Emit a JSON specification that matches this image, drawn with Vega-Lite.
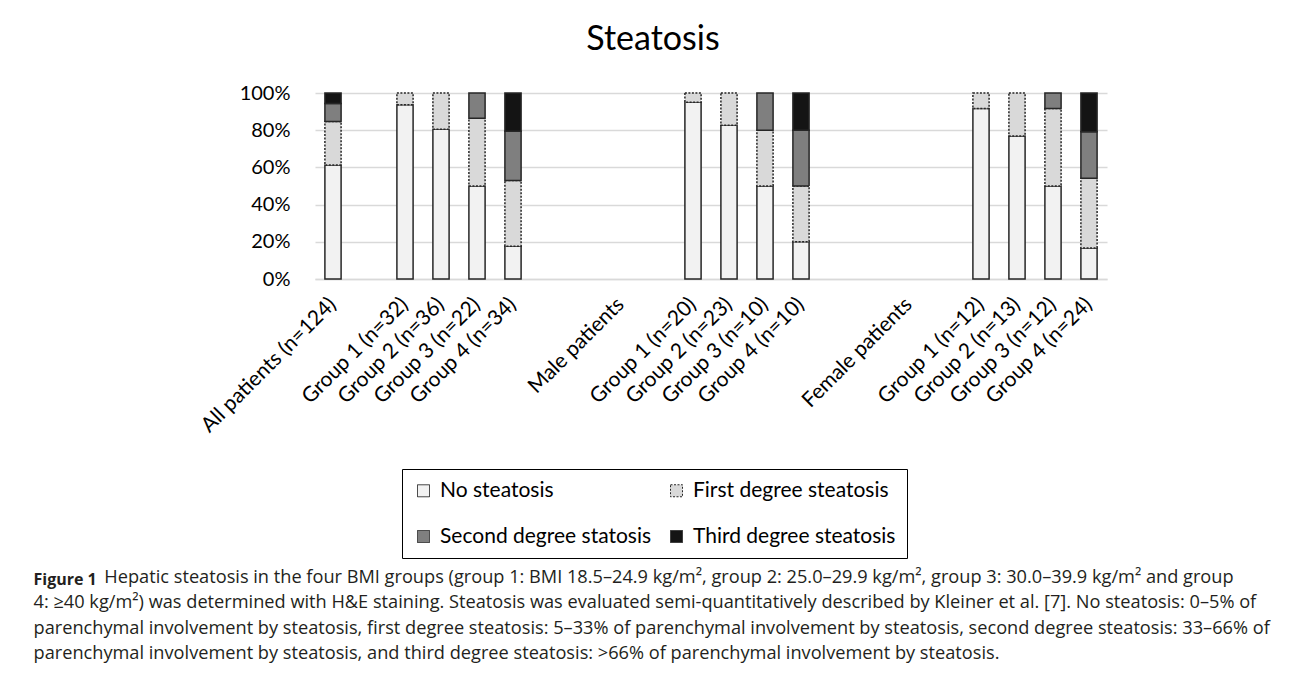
{
  "$schema": "https://vega.github.io/schema/vega-lite/v6.json",
  "width": 792,
  "height": 186,
  "autosize": {"type": "none"},
  "padding": {"left": 315, "top": 93, "right": 186, "bottom": 395},
  "background": "white",
  "config": {"font": "Lato", "view": {"stroke": null}},
  "title": {"text": "Steatosis", "fontSize": 34, "font": "Lato", "fontWeight": "normal", "anchor": "middle", "frame": "group", "dx": -58, "offset": 26, "color": "#000000"},
  "data": {"values": [
    {"cat": "All patients (n=124)", "grade": "No steatosis", "ord": 1, "n": 76},
    {"cat": "All patients (n=124)", "grade": "First degree steatosis", "ord": 2, "n": 29},
    {"cat": "All patients (n=124)", "grade": "Second degree statosis", "ord": 3, "n": 12},
    {"cat": "All patients (n=124)", "grade": "Third degree steatosis", "ord": 4, "n": 7},
    {"cat": "Group 1 (n=32)", "grade": "No steatosis", "ord": 1, "n": 30},
    {"cat": "Group 1 (n=32)", "grade": "First degree steatosis", "ord": 2, "n": 2},
    {"cat": "Group 2 (n=36)", "grade": "No steatosis", "ord": 1, "n": 29},
    {"cat": "Group 2 (n=36)", "grade": "First degree steatosis", "ord": 2, "n": 7},
    {"cat": "Group 3 (n=22)", "grade": "No steatosis", "ord": 1, "n": 11},
    {"cat": "Group 3 (n=22)", "grade": "First degree steatosis", "ord": 2, "n": 8},
    {"cat": "Group 3 (n=22)", "grade": "Second degree statosis", "ord": 3, "n": 3},
    {"cat": "Group 4 (n=34)", "grade": "No steatosis", "ord": 1, "n": 6},
    {"cat": "Group 4 (n=34)", "grade": "First degree steatosis", "ord": 2, "n": 12},
    {"cat": "Group 4 (n=34)", "grade": "Second degree statosis", "ord": 3, "n": 9},
    {"cat": "Group 4 (n=34)", "grade": "Third degree steatosis", "ord": 4, "n": 7},
    {"cat": "Group 1 (n=20)", "grade": "No steatosis", "ord": 1, "n": 19},
    {"cat": "Group 1 (n=20)", "grade": "First degree steatosis", "ord": 2, "n": 1},
    {"cat": "Group 2 (n=23)", "grade": "No steatosis", "ord": 1, "n": 19},
    {"cat": "Group 2 (n=23)", "grade": "First degree steatosis", "ord": 2, "n": 4},
    {"cat": "Group 3 (n=10)", "grade": "No steatosis", "ord": 1, "n": 5},
    {"cat": "Group 3 (n=10)", "grade": "First degree steatosis", "ord": 2, "n": 3},
    {"cat": "Group 3 (n=10)", "grade": "Second degree statosis", "ord": 3, "n": 2},
    {"cat": "Group 4 (n=10)", "grade": "No steatosis", "ord": 1, "n": 2},
    {"cat": "Group 4 (n=10)", "grade": "First degree steatosis", "ord": 2, "n": 3},
    {"cat": "Group 4 (n=10)", "grade": "Second degree statosis", "ord": 3, "n": 3},
    {"cat": "Group 4 (n=10)", "grade": "Third degree steatosis", "ord": 4, "n": 2},
    {"cat": "Group 1 (n=12)", "grade": "No steatosis", "ord": 1, "n": 11},
    {"cat": "Group 1 (n=12)", "grade": "First degree steatosis", "ord": 2, "n": 1},
    {"cat": "Group 2 (n=13)", "grade": "No steatosis", "ord": 1, "n": 10},
    {"cat": "Group 2 (n=13)", "grade": "First degree steatosis", "ord": 2, "n": 3},
    {"cat": "Group 3 (n=12)", "grade": "No steatosis", "ord": 1, "n": 6},
    {"cat": "Group 3 (n=12)", "grade": "First degree steatosis", "ord": 2, "n": 5},
    {"cat": "Group 3 (n=12)", "grade": "Second degree statosis", "ord": 3, "n": 1},
    {"cat": "Group 4 (n=24)", "grade": "No steatosis", "ord": 1, "n": 4},
    {"cat": "Group 4 (n=24)", "grade": "First degree steatosis", "ord": 2, "n": 9},
    {"cat": "Group 4 (n=24)", "grade": "Second degree statosis", "ord": 3, "n": 6},
    {"cat": "Group 4 (n=24)", "grade": "Third degree steatosis", "ord": 4, "n": 5}
  ]},
  "mark": {"type": "bar", "stroke": "#262626", "strokeWidth": 1.5},
  "encoding": {
    "x": {
      "field": "cat",
      "type": "nominal",
      "sort": null,
      "scale": {
        "domain": ["All patients (n=124)", " ", "Group 1 (n=32)", "Group 2 (n=36)", "Group 3 (n=22)", "Group 4 (n=34)", "  ", "   ", "Male patients", "    ", "Group 1 (n=20)", "Group 2 (n=23)", "Group 3 (n=10)", "Group 4 (n=10)", "     ", "      ", "Female patients", "       ", "Group 1 (n=12)", "Group 2 (n=13)", "Group 3 (n=12)", "Group 4 (n=24)"],
        "paddingInner": 0.55,
        "paddingOuter": 0.275
      },
      "axis": {
        "labelAngle": -45,
        "labelAlign": "right",
        "labelBaseline": "middle",
        "labelPadding": 22,
        "labelFontSize": 21,
        "labelColor": "#000000",
        "labelOverlap": false,
        "labelLimit": 400,
        "ticks": false,
        "domainColor": "#d9d9d9",
        "domainWidth": 1.5,
        "title": ["\u200b\u00a0\u00a0\u00a0\u00a0\u00a0\u00a0\u00a0\u00a0\u00a0\u00a0\u00a0\u00a0\u00a0\u00a0\u00a0Hepatic steatosis in the four BMI groups (group 1: BMI 18.5–24.9 kg/m², group 2: 25.0–29.9 kg/m², group 3: 30.0–39.9 kg/m² and group", "4: ≥40 kg/m²) was determined with H&E staining. Steatosis was evaluated semi-quantitatively described by Kleiner et al. [7]. No steatosis: 0–5% of", "parenchymal involvement by steatosis, first degree steatosis: 5–33% of parenchymal involvement by steatosis, second degree steatosis: 33–66% of", "parenchymal involvement by steatosis, and third degree steatosis: >66% of parenchymal involvement by steatosis."],
        "titleFont": "Open Sans",
        "titleFontSize": 18.2,
        "titleFontWeight": "normal",
        "titleColor": "#231f20",
        "titleAnchor": "start",
        "titleAlign": "left",
        "titleBaseline": "top",
        "titleLineHeight": 25.5,
        "titleX": -282,
        "titleY": 289
      }
    },
    "y": {
      "field": "n",
      "type": "quantitative",
      "stack": "normalize",
      "scale": {"domain": [0, 1]},
      "axis": {
        "format": "%",
        "values": [0, 0.2, 0.4, 0.6, 0.8, 1],
        "labelFontSize": 20,
        "labelColor": "#000000",
        "labelPadding": 25,
        "ticks": false,
        "domain": false,
        "gridColor": "#d9d9d9",
        "gridWidth": 1.5,
        "title": "Figure 1",
        "titleFont": "Open Sans",
        "titleFontSize": 16,
        "titleFontWeight": "bold",
        "titleColor": "#231f20",
        "titleAngle": 0,
        "titleAlign": "left",
        "titleBaseline": "middle",
        "titleX": -282,
        "titleY": 486
      }
    },
    "color": {
      "field": "grade",
      "type": "nominal",
      "scale": {
        "domain": ["No steatosis", "First degree steatosis", "Second degree statosis", "Third degree steatosis"],
        "range": ["#f2f2f2", "#d9d9d9", "#7f7f7f", "#141414"]
      },
      "legend": {
        "title": null,
        "orient": "none",
        "legendX": 87,
        "legendY": 376,
        "columns": 2,
        "direction": "horizontal",
        "strokeColor": "#000000",
        "padding": 11,
        "rowPadding": 24,
        "columnPadding": 14,
        "labelFontSize": 21,
        "labelColor": "#000000",
        "labelLimit": 400,
        "symbolType": "square",
        "symbolSize": 144,
        "symbolStrokeColor": "#262626",
        "symbolStrokeWidth": 1,
        "symbolOpacity": 1,
        "labelOffset": 6
      }
    },
    "strokeDash": {
      "field": "grade",
      "type": "nominal",
      "scale": {
        "domain": ["No steatosis", "First degree steatosis", "Second degree statosis", "Third degree steatosis"],
        "range": [[1, 0], [2, 1.5], [1, 0], [1, 0]]
      },
      "legend": null
    },
    "order": {"field": "ord", "type": "quantitative"}
  }
}
